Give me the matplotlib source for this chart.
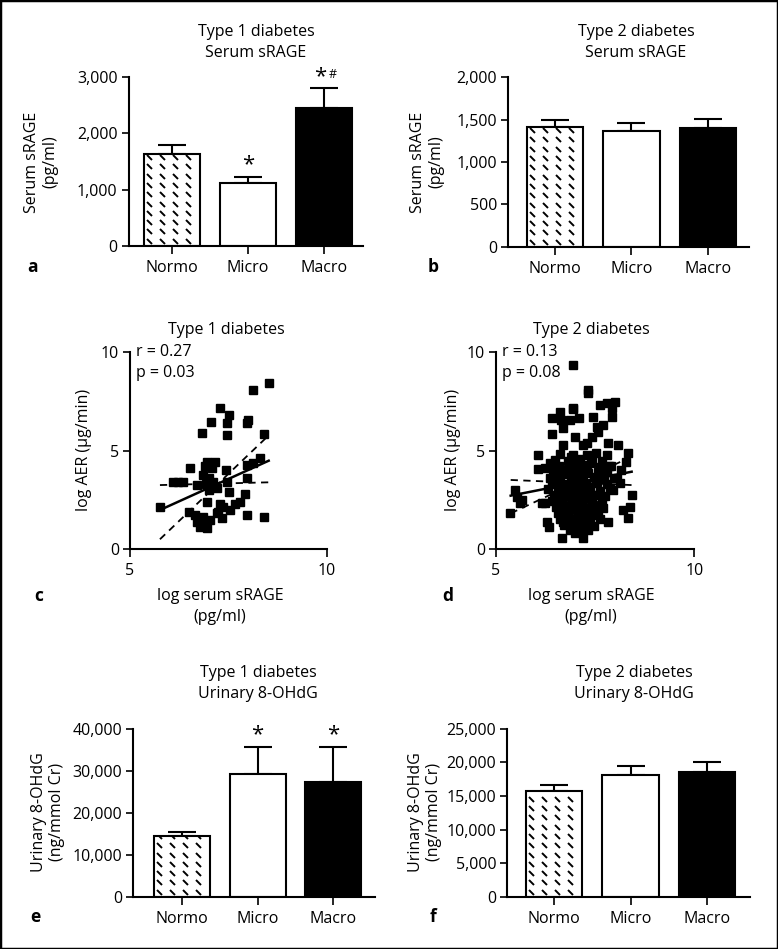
import matplotlib
matplotlib.use("Agg")
import matplotlib.pyplot as plt
from matplotlib.patches import Rectangle
from matplotlib.ticker import FuncFormatter
import numpy as np

plt.rcParams['font.family'] = ['Open Sans', 'DejaVu Sans']

# ---------------- data ----------------
groups = ["Normo", "Micro", "Macro"]

t1_srage_mean = [1634, 1123, 2448]
t1_srage_err = [154, 101, 356]
t2_srage_mean = [1413, 1370, 1402]
t2_srage_err = [83, 87, 110]
t1_ohdg_mean = [14580, 29320, 27490]
t1_ohdg_err = [960, 6540, 8370]
t2_ohdg_mean = [15770, 18100, 18600]
t2_ohdg_err = [900, 1300, 1390]

t1_srage_marks = ["", "*", "*#"]
t1_ohdg_marks = ["", "*", "*"]

# scatter c (type 1)
c_x = [8.54, 8.13, 7.28, 7.50, 7.45, 7.05, 7.99, 7.98, 6.84, 7.45, 8.40,
       6.52, 6.95, 7.16, 6.91, 7.08, 7.43, 8.30, 7.96, 8.13,
       6.10, 6.35, 6.22, 6.69, 6.86, 7.00, 7.10, 7.96, 7.45, 7.50, 7.00, 7.20, 6.92,
       5.76, 6.50, 6.95, 7.28, 7.37, 7.66, 7.79, 7.92, 7.54, 7.24, 7.97, 8.40,
       6.69, 6.86, 7.03, 6.95, 6.78, 7.33, 7.20, 6.65, 6.88]
c_y = [8.45, 8.08, 7.15, 6.80, 6.38, 6.43, 6.55, 6.38, 5.87, 5.79, 5.84,
       4.12, 4.43, 4.43, 4.20, 4.10, 4.00, 4.60, 4.26, 4.35,
       3.41, 3.41, 3.41, 3.24, 3.75, 3.58, 3.41, 3.58, 3.41, 2.90, 3.00, 3.07, 3.30,
       2.14, 1.88, 2.39, 2.30, 2.14, 2.30, 2.39, 2.78, 1.96, 1.88, 1.71, 1.63,
       1.37, 1.63, 1.46, 1.03, 1.12, 1.54, 1.80, 1.71, 1.35]
c_r_text = "r = 0.27"
c_p_text = "p = 0.03"
c_fit_x = [5.76, 8.52]
c_fit_y = [1.97, 4.48]
c_band1_y = [0.48, 5.77]
c_band2_y = [3.24, 3.38]

# scatter d (type 2)
d_x = [6.95, 7.32, 7.33, 6.95, 7.62, 7.79, 8.00, 7.92, 7.45, 7.92, 7.10, 6.86,
       6.40, 6.61, 6.65, 6.93, 7.70, 7.58, 7.41, 6.99, 6.70, 6.40, 7.55,
       7.83, 8.08, 7.20, 7.29, 8.34, 8.29, 7.79, 6.70, 7.29,
       6.07, 6.07, 6.24, 6.36, 6.53, 5.48, 5.52, 5.60, 5.35, 6.17, 6.28, 6.34,
       6.66, 7.20, 8.42, 8.21, 8.38, 8.32, 7.83, 8.13, 7.96, 8.05, 7.90, 8.15,
       6.62, 6.93, 7.52, 6.48, 6.81, 7.12, 7.43, 7.68,
       6.58, 6.92, 7.21, 7.63, 7.86,
       6.44, 6.77, 7.02, 7.31, 7.56, 7.81,
       6.36, 6.61, 6.88, 7.17, 7.46, 7.72, 7.97,
       6.42, 6.71, 6.97, 7.26, 7.52, 7.79,
       6.31, 6.57, 6.86, 7.11, 7.37, 7.62, 7.88,
       6.47, 6.72, 7.01, 7.24, 7.49, 7.76,
       6.40, 6.66, 6.91, 7.16, 7.42, 7.67,
       6.52, 6.77, 7.03, 7.27, 7.51, 7.71,
       6.56, 6.82, 7.06, 7.32, 7.57,
       6.62, 6.87, 7.12, 7.36, 7.61,
       6.72, 6.97, 7.22, 7.46,
       6.86, 7.09, 7.31, 5.65, 6.24,
       6.55, 6.80, 7.05, 7.30, 6.95, 7.15, 6.70, 7.40, 6.85, 7.10,
       7.35, 6.65, 6.90, 7.20, 7.00, 7.25, 6.75, 7.05, 6.60, 7.55,
       7.45, 6.95, 7.20, 6.50, 7.60, 6.80, 7.10, 6.90, 7.35, 6.70,
       7.50, 7.00, 6.85, 7.15, 6.55, 7.40, 6.98, 7.28, 6.62, 7.08]
d_y = [9.35, 8.08, 7.95, 7.15, 7.32, 7.42, 7.49, 7.15, 6.72, 6.72, 6.63, 6.56,
       6.64, 6.98, 6.55, 7.13, 6.30, 5.96, 5.71, 5.71, 6.13, 5.84, 6.18,
       5.37, 5.28, 5.28, 4.77, 4.86, 4.43, 4.77, 5.28, 5.37,
       4.77, 4.04, 4.09, 4.35, 3.75, 2.99, 2.65, 2.31, 1.80, 2.31, 1.38, 1.10,
       0.53, 0.53, 2.73, 1.97, 2.14, 1.55, 1.38, 3.33, 2.99, 3.60, 4.20, 4.00,
       4.83, 4.78, 4.85, 4.52, 4.47, 4.55, 4.50, 4.44,
       4.22, 4.18, 4.25, 4.16, 4.21,
       3.93, 3.88, 3.95, 3.86, 3.91, 3.94,
       3.62, 3.57, 3.64, 3.59, 3.63, 3.56, 3.61,
       3.31, 3.28, 3.34, 3.27, 3.32, 3.29,
       3.02, 2.97, 3.04, 2.98, 3.01, 2.96, 3.03,
       2.72, 2.68, 2.74, 2.69, 2.71, 2.67,
       2.41, 2.38, 2.43, 2.37, 2.42, 2.39,
       2.12, 2.08, 2.13, 2.07, 2.11, 2.09,
       1.82, 1.78, 1.83, 1.79, 1.81,
       1.52, 1.49, 1.53, 1.48, 1.51,
       1.22, 1.19, 1.23, 1.18,
       0.96, 0.93, 0.97, 2.50, 2.31,
       3.45, 3.80, 3.20, 4.05, 2.55, 2.85, 2.25, 2.55, 1.95, 1.65,
       1.25, 1.60, 1.10, 1.40, 0.80, 2.00, 4.00, 4.40, 3.10, 3.40,
       2.20, 3.55, 3.65, 2.55, 2.75, 2.85, 2.35, 4.65, 3.15, 1.35,
       1.70, 1.30, 3.15, 4.00, 4.10, 4.35, 2.05, 2.70, 2.80, 3.85]
d_r_text = "r = 0.13"
d_p_text = "p = 0.08"
d_fit_x = [5.37, 8.42]
d_fit_y = [2.70, 3.92]
d_band1_y = [3.50, 3.24]
d_band2_y = [1.80, 4.69]

# ---------------- layout helpers ----------------
W, H = 778, 949
fig = plt.figure(figsize=(W / 100, H / 100), dpi=100)


def add_ax(l, r, t, b):
    return fig.add_axes([l / W, 1 - b / H, (r - l) / W, (b - t) / H])


def ftext(x, y, s, **kw):
    fig.text(x / W, 1 - y / H, s, **kw)


FS = 11.5
LW = 1.5
comma = FuncFormatter(lambda v, p: f"{v:,.0f}")


def style_ax(ax):
    for s in ["top", "right"]:
        ax.spines[s].set_visible(False)
    for s in ["left", "bottom"]:
        ax.spines[s].set_linewidth(LW)
    ax.tick_params(direction="out", length=5, width=1.2, labelsize=FS, pad=3)


def dash_pattern(ax, patch):
    fig.canvas.draw()
    bb = patch.get_window_extent()
    xs = np.arange(bb.x0 + 5, bb.x1, 13.0)
    ys = np.arange(bb.y0 + 5, bb.y1, 9.3)
    gx, gy = np.meshgrid(xs, ys)
    pts = ax.transData.inverted().transform(np.column_stack([gx.ravel(), gy.ravel()]))
    ln, = ax.plot(pts[:, 0], pts[:, 1], linestyle="none",
                  marker=[(-1, 1), (1, -1)], markersize=3.6,
                  markeredgewidth=1.4, color="black", zorder=3)
    ln.set_clip_path(patch)


def bar_panel(ax, means, errs, ymax, step, xl, xr, marks=None):
    pos = np.arange(len(means))
    faces = ["white", "white", "black"]
    bars = ax.bar(pos, means, width=0.74, color=faces, edgecolor="black",
                  linewidth=LW, zorder=2)
    ax.errorbar(pos, means, yerr=[np.zeros(len(errs)), errs], fmt="none",
                ecolor="black", elinewidth=LW, capsize=10, capthick=LW, zorder=1)
    ax.set_ylim(0, ymax)
    ax.set_xlim(xl, xr)
    ax.set_yticks(np.arange(0, ymax + 1, step))
    ax.yaxis.set_major_formatter(comma)
    ax.set_xticks(pos)
    ax.set_xticklabels(groups)
    style_ax(ax)
    ax.tick_params(axis="x", length=6, pad=4)
    dash_pattern(ax, bars[0])
    if marks:
        for i, m in enumerate(marks):
            if not m:
                continue
            top = means[i] + errs[i]
            ax.annotate("*", (pos[i], top), xytext=(-3 if len(m) > 1 else 0, 1),
                        textcoords="offset points", ha="center", va="bottom",
                        fontsize=16)
            if "#" in m:
                ax.annotate("#", (pos[i], top), xytext=(6, 5),
                            textcoords="offset points", ha="center", va="bottom",
                            fontsize=9)
    return bars


def scatter_panel(ax, x, y, fx, fy, b1, b2, rt, pt):
    ax.plot(x, y, linestyle="none", marker="s", markersize=5.3, color="black", zorder=3)
    ax.plot(fx, fy, color="black", lw=1.8, zorder=4)
    ax.plot(fx, b1, color="black", lw=1.3, ls=(0, (4, 3)), zorder=4)
    ax.plot(fx, b2, color="black", lw=1.3, ls=(0, (4, 3)), zorder=4)
    ax.set_xlim(5, 10)
    ax.set_ylim(0, 10)
    ax.set_xticks([5, 10])
    ax.set_yticks([0, 5, 10])
    style_ax(ax)
    ax.tick_params(axis="x", length=6, pad=4)
    ax.text(0.03, 1.0, rt, transform=ax.transAxes, fontsize=FS, va="center", ha="left")
    ax.text(0.03, 0.895, pt, transform=ax.transAxes, fontsize=FS, va="center", ha="left")


# panel a
ax_a = add_ax(128.7, 363, 77.3, 245.7)
bar_panel(ax_a, t1_srage_mean, t1_srage_err, 3000, 1000, -0.57, 2.51, t1_srage_marks)
ftext(256, 32, "Type 1 diabetes", ha="center", va="center", fontsize=FS)
ftext(256, 53, "Serum sRAGE", ha="center", va="center", fontsize=FS)
ftext(41, 162, "Serum sRAGE\n(pg/ml)", ha="center", va="center", rotation=90,
      fontsize=FS, multialignment="center", linespacing=1.2)
ftext(33, 267, "a", ha="center", va="center", fontsize=12.5, fontweight="bold")

# panel b
ax_b = add_ax(508.3, 749.3, 77.3, 246.7)
bar_panel(ax_b, t2_srage_mean, t2_srage_err, 2000, 500, -0.61, 2.54)
ftext(636, 32, "Type 2 diabetes", ha="center", va="center", fontsize=FS)
ftext(636, 53, "Serum sRAGE", ha="center", va="center", fontsize=FS)
ftext(427, 162, "Serum sRAGE\n(pg/ml)", ha="center", va="center", rotation=90,
      fontsize=FS, multialignment="center", linespacing=1.2)
ftext(433, 267, "b", ha="center", va="center", fontsize=12.5, fontweight="bold")

# panel c
ax_c = add_ax(130, 327, 352.3, 548.7)
scatter_panel(ax_c, c_x, c_y, c_fit_x, c_fit_y, c_band1_y, c_band2_y, c_r_text, c_p_text)
ftext(226, 330, "Type 1 diabetes", ha="center", va="center", fontsize=FS)
ftext(84, 450, "log AER (\u00b5g/min)", ha="center", va="center", rotation=90, fontsize=FS)
ftext(220, 596, "log serum sRAGE", ha="center", va="center", fontsize=FS)
ftext(220, 617, "(pg/ml)", ha="center", va="center", fontsize=FS)
ftext(39, 596, "c", ha="center", va="center", fontsize=12.5, fontweight="bold")

# panel d
ax_d = add_ax(496, 694.3, 352.3, 548.7)
scatter_panel(ax_d, d_x, d_y, d_fit_x, d_fit_y, d_band1_y, d_band2_y, d_r_text, d_p_text)
ftext(591, 330, "Type 2 diabetes", ha="center", va="center", fontsize=FS)
ftext(453, 450, "log AER (\u00b5g/min)", ha="center", va="center", rotation=90, fontsize=FS)
ftext(591, 596, "log serum sRAGE", ha="center", va="center", fontsize=FS)
ftext(591, 617, "(pg/ml)", ha="center", va="center", fontsize=FS)
ftext(448, 596, "d", ha="center", va="center", fontsize=12.5, fontweight="bold")

# panel e
ax_e = add_ax(133.3, 375, 729.3, 896.7)
bar_panel(ax_e, t1_ohdg_mean, t1_ohdg_err, 40000, 10000, -0.64, 2.55, t1_ohdg_marks)
ftext(258, 673, "Type 1 diabetes", ha="center", va="center", fontsize=FS)
ftext(258, 694, "Urinary 8-OHdG", ha="center", va="center", fontsize=FS)
ftext(48, 812, "Urinary 8-OHdG\n(ng/mmol Cr)", ha="center", va="center", rotation=90,
      fontsize=FS, multialignment="center", linespacing=1.2)
ftext(35, 917, "e", ha="center", va="center", fontsize=12.5, fontweight="bold")

# panel f
ax_f = add_ax(507.3, 750, 728.7, 896.7)
bar_panel(ax_f, t2_ohdg_mean, t2_ohdg_err, 25000, 5000, -0.61, 2.56)
ftext(634, 673, "Type 2 diabetes", ha="center", va="center", fontsize=FS)
ftext(634, 694, "Urinary 8-OHdG", ha="center", va="center", fontsize=FS)
ftext(425, 812, "Urinary 8-OHdG\n(ng/mmol Cr)", ha="center", va="center", rotation=90,
      fontsize=FS, multialignment="center", linespacing=1.2)
ftext(433, 917, "f", ha="center", va="center", fontsize=12.5, fontweight="bold")

# outer frame
fig.add_artist(Rectangle((0, 0), 1, 1, transform=fig.transFigure, fill=False,
                         lw=2.5, edgecolor="black"))

fig.savefig("out.png", dpi=100)
